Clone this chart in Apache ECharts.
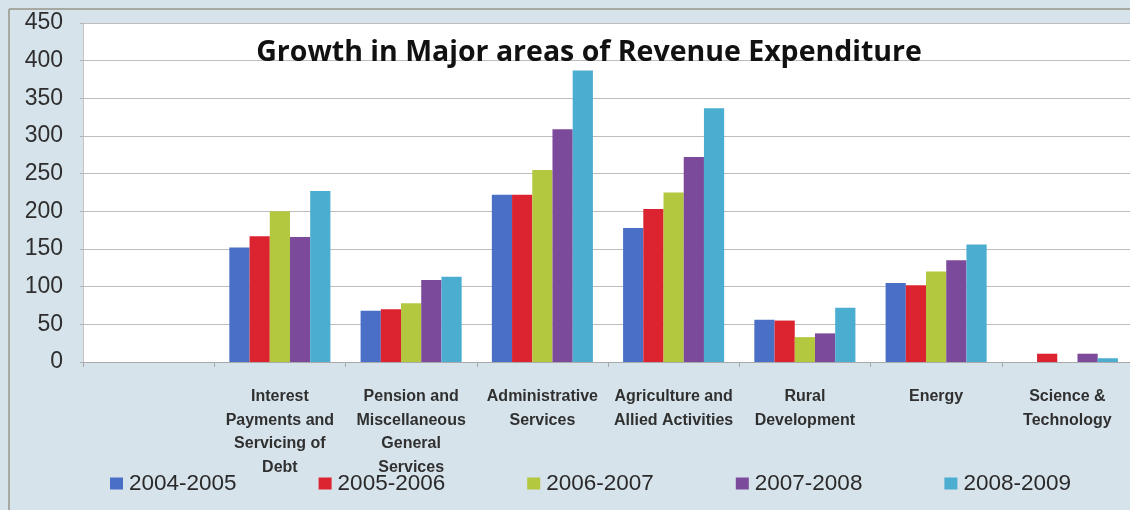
<!DOCTYPE html>
<html>
<head>
<meta charset="utf-8">
<script src="https://cdn.jsdelivr.net/npm/echarts@6/dist/echarts.min.js"></script>
<style>
html,body{margin:0;padding:0;background:#d6e3eb;}
#chart{width:1130px;height:510px;}
</style>
</head>
<body>
<div id="chart"></div>
<script>
var categories = ["", "Interest\nPayments and\nServicing of\nDebt", "Pension and\nMiscellaneous\nGeneral\nServices", "Administrative\nServices", "Agriculture and\nAllied Activities", "Rural\nDevelopment", "Energy", "Science &\nTechnology"];
var seriesNames = ["2004-2005", "2005-2006", "2006-2007", "2007-2008", "2008-2009"];
var v2004 = [null, 152, 68, 222, 178, 56, 105, 0];
var v2005 = [null, 167, 70, 222, 203, 55, 102, 11];
var v2006 = [null, 200, 78, 255, 225, 33, 120, 0];
var v2007 = [null, 166, 109, 309, 272, 38, 135, 11];
var v2008 = [null, 227, 113, 387, 337, 72, 156, 5];
var yTicks = [0, 50, 100, 150, 200, 250, 300, 350, 400, 450];
var colors = ["#4a6fc6", "#dc2330", "#b3c73f", "#7b4a9b", "#4badd0"];
var titleText = "Growth in Major areas of Revenue Expenditure";

var values = [v2004, v2005, v2006, v2007, v2008];
var chart = echarts.init(document.getElementById('chart'), null, {renderer: 'canvas'});
chart.setOption({
  backgroundColor: '#d6e3eb',
  animation: false,
  color: colors,
  title: {
    text: titleText,
    left: 584, top: 33, textAlign: 'center',
    textStyle: {fontFamily: 'Open Sans', fontWeight: 'bold', fontSize: 28.5, color: '#111'}
  },
  legend: {
    data: seriesNames,
    left: 105, top: 467,
    icon: 'rect', itemWidth: 13, itemHeight: 12, itemGap: 82,
    textStyle: {fontFamily: 'Liberation Sans', fontSize: 22.5, color: '#2a2a2a', padding: [0,0,0,1]}
  },
  grid: {left: 83, top: 23, width: 1050, height: 339, show: true, backgroundColor: '#ffffff', borderWidth: 0, outerBoundsMode: 'none', containLabel: false},
  xAxis: {
    type: 'category', data: categories,
    axisLine: {show: true, lineStyle: {color: '#a9a9a9', width: 1}},
    axisTick: {show: true, length: 5, lineStyle: {color: '#a9a9a9'}},
    axisLabel: {interval: 0, margin: 23, lineHeight: 23.5, fontFamily: 'Liberation Sans', fontWeight: 'bold', fontSize: 16, color: '#303030'}
  },
  yAxis: {
    type: 'value', min: 0, max: 450, interval: 50,
    axisLine: {show: true, lineStyle: {color: '#c4c4c4'}},
    axisTick: {show: true, length: 3, lineStyle: {color: '#b0b0b0'}},
    splitLine: {show: true, lineStyle: {color: '#bdbdbd', width: 1}},
    axisLabel: {margin: 20, fontFamily: 'Liberation Sans', fontSize: 23, color: '#2e2e2e'}
  },
  graphic: [
    {type: 'line', shape: {x1: 9, y1: 9, x2: 1130, y2: 9}, style: {stroke: '#a8a8a2', lineWidth: 2}, silent: true},
    {type: 'line', shape: {x1: 9, y1: 9, x2: 9, y2: 510}, style: {stroke: '#a8a8a2', lineWidth: 2}, silent: true}
  ],
  series: seriesNames.map(function (n, i) {
    return {name: n, type: 'bar', data: values[i], barGap: '0%', barCategoryGap: '23%', itemStyle: {color: colors[i]}};
  })
});
</script>
</body>
</html>
